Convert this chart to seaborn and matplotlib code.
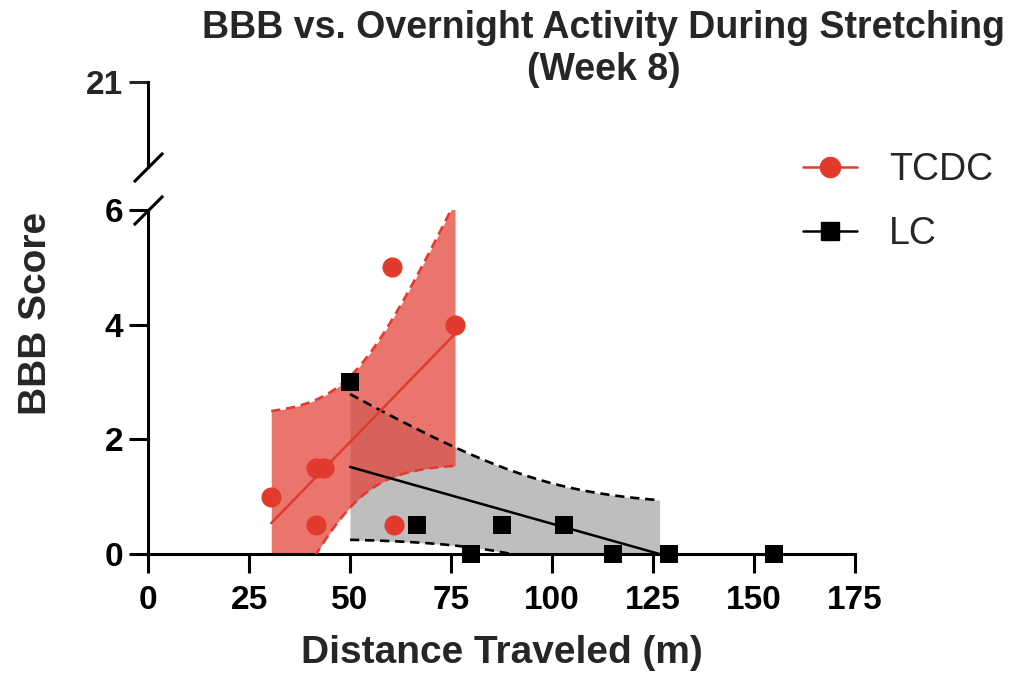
import numpy as np
import pandas as pd
import matplotlib
matplotlib.use("Agg")
import matplotlib.pyplot as plt
import seaborn as sns
from matplotlib.lines import Line2D
from math import gamma, pi, sqrt

# Week 8 measurements: overnight distance (m) vs BBB locomotor score
tcdc_distance = [30.5, 41.5, 43.5, 41.5, 60.5, 61.0, 76.0]
tcdc_bbb = [1.0, 1.5, 1.5, 0.5, 5.0, 0.5, 4.0]
lc_distance = [50.0, 66.5, 80.0, 87.5, 103.0, 115.0, 129.0, 155.0]
lc_bbb = [3.0, 0.5, 0.0, 0.5, 0.5, 0.0, 0.0, 0.0]

groups = ["TCDC", "LC"]
band_level = {"TCDC": 0.90, "LC": 0.95}
x_ticks = [0, 25, 50, 75, 100, 125, 150, 175]
y_ticks = [0, 2, 4, 6]
y_top_ticks = [21]

RED = "#E23B2E"
GRAY_FILL = "#BEBEBE"
LW_AXIS = 2.2
Y_LOW, Y_HIGH = 0, 6


def t_quantile(p, dof):
    """Student t quantile from a numerically integrated density."""
    grid = np.linspace(0, 60, 400001)
    c = gamma((dof + 1) / 2) / (sqrt(dof * pi) * gamma(dof / 2))
    pdf = c * (1 + grid ** 2 / dof) ** (-(dof + 1) / 2)
    cdf = 0.5 + np.concatenate([[0], np.cumsum((pdf[1:] + pdf[:-1]) / 2 * np.diff(grid))])
    return float(np.interp(p, cdf, grid))


def regression_band(x, y, level=0.95, n=300):
    """Least-squares line with its confidence band, kept where the fit stays in the y range."""
    x = np.asarray(x, float)
    y = np.asarray(y, float)
    slope, intercept = np.polyfit(x, y, 1)
    lo, hi = x.min(), x.max()
    for bound in (Y_LOW, Y_HIGH):
        xb = (bound - intercept) / slope
        if slope < 0 and bound == Y_LOW or slope > 0 and bound == Y_HIGH:
            hi = min(hi, xb) if xb > lo else hi
        else:
            lo = max(lo, xb) if xb < hi else lo
    xs = np.linspace(lo, hi, n)
    yhat = intercept + slope * xs
    resid = y - (intercept + slope * x)
    dof = len(x) - 2
    s = sqrt((resid ** 2).sum() / dof)
    se = s * np.sqrt(1 / len(x) + (xs - x.mean()) ** 2 / ((x - x.mean()) ** 2).sum())
    t = t_quantile(0.5 + level / 2, dof)
    return xs, yhat, yhat - t * se, yhat + t * se


sns.set_theme(style="ticks")
plt.rcParams["font.family"] = ["Liberation Sans", "DejaVu Sans"]

fig = plt.figure(figsize=(10.18, 6.85), dpi=100)
ax = fig.add_axes([0.1454, 0.1912, 0.6945, 0.5022])
ax_top = fig.add_axes([0.1454, 0.7562, 0.6945, 0.1241])

tcdc = pd.DataFrame({"distance": tcdc_distance, "bbb": tcdc_bbb, "group": groups[0]})
lc = pd.DataFrame({"distance": lc_distance, "bbb": lc_bbb, "group": groups[1]})

# confidence bands
lx, lfit, llo, lhi = regression_band(lc_distance, lc_bbb, band_level["LC"])
tx, tfit, tlo, thi = regression_band(tcdc_distance, tcdc_bbb, band_level["TCDC"])
ax.fill_between(lx, llo, lhi, color=GRAY_FILL, lw=0, zorder=1)
ax.fill_between(tx, tlo, thi, color=RED, alpha=0.7, lw=0, zorder=2)

dash = dict(linestyle=(0, (3.5, 2.2)), lw=1.9, zorder=3)
for xs, edge in ((lx, llo), (lx, lhi)):
    sns.lineplot(x=xs, y=edge, ax=ax, color="black", sort=False, **dash)
for xs, edge in ((tx, tlo), (tx, thi)):
    sns.lineplot(x=xs, y=edge, ax=ax, color=RED, sort=False, **dash)

# fitted lines
sns.lineplot(x=lx, y=lfit, ax=ax, color="black", lw=1.8, sort=False, zorder=3)
sns.lineplot(x=tx, y=tfit, ax=ax, color=RED, lw=1.8, sort=False, zorder=3)

# observations
sns.scatterplot(data=tcdc, x="distance", y="bbb", ax=ax, color=RED, marker="o",
                s=210, linewidth=0, clip_on=False, zorder=5, legend=False)
sns.scatterplot(data=lc, x="distance", y="bbb", ax=ax, color="black", marker="s",
                s=175, linewidth=0, clip_on=False, zorder=6, legend=False)

# lower axis
ax.set_xlim(0, 175)
ax.set_ylim(Y_LOW, Y_HIGH)
ax.set_xticks(x_ticks, labels=[str(v) for v in x_ticks], fontweight="bold")
ax.set_yticks(y_ticks, labels=[str(v) for v in y_ticks], fontweight="bold")
ax.tick_params(axis="both", direction="out", length=14, width=LW_AXIS,
               labelsize=24, color="black", labelcolor="black")
ax.tick_params(axis="x", pad=8)
ax.tick_params(axis="y", pad=4)
for side in ("top", "right"):
    ax.spines[side].set_visible(False)
for side in ("left", "bottom"):
    ax.spines[side].set_linewidth(LW_AXIS)
    ax.spines[side].set_color("black")
ax.set_xlabel("Distance Traveled (m)", fontsize=28, fontweight="bold", labelpad=14)
ax.set_ylabel("BBB Score", fontsize=28, fontweight="bold")
ax.yaxis.set_label_coords(-0.133, 0.7)
ax.patch.set_visible(False)

# upper axis segment
ax_top.set_xlim(0, 175)
ax_top.set_ylim(19.5, 21)
ax_top.set_xticks([])
ax_top.set_yticks(y_top_ticks, labels=[str(v) for v in y_top_ticks], fontweight="bold")
ax_top.tick_params(axis="y", direction="out", length=14, width=LW_AXIS, labelsize=24, pad=4)
for side in ("top", "right", "bottom"):
    ax_top.spines[side].set_visible(False)
ax_top.spines["left"].set_linewidth(LW_AXIS)
ax_top.spines["left"].set_color("black")
ax_top.patch.set_visible(False)

# break marks
slash = dict(marker=[(-1, -1), (1, 1)], markersize=21, markeredgewidth=LW_AXIS,
             color="black", linestyle="none", clip_on=False)
ax.plot([0], [1], transform=ax.transAxes, **slash)
ax_top.plot([0], [0], transform=ax_top.transAxes, **slash)

# legend
handles = [
    Line2D([], [], color=RED, marker="o", markersize=14.5, lw=1.8),
    Line2D([], [], color="black", marker="s", markersize=13, lw=1.8),
]
fig.legend(handles, groups, loc="upper left", bbox_to_anchor=(0.774, 0.80),
           frameon=False, fontsize=27, handlelength=1.45, handletextpad=0.85,
           labelspacing=0.75, borderaxespad=0)

fig.text(0.5933, 0.985, "BBB vs. Overnight Activity During Stretching\n(Week 8)",
         ha="center", va="top", fontsize=27, fontweight="bold", linespacing=1.22)

fig.savefig("out.png", dpi=100)
